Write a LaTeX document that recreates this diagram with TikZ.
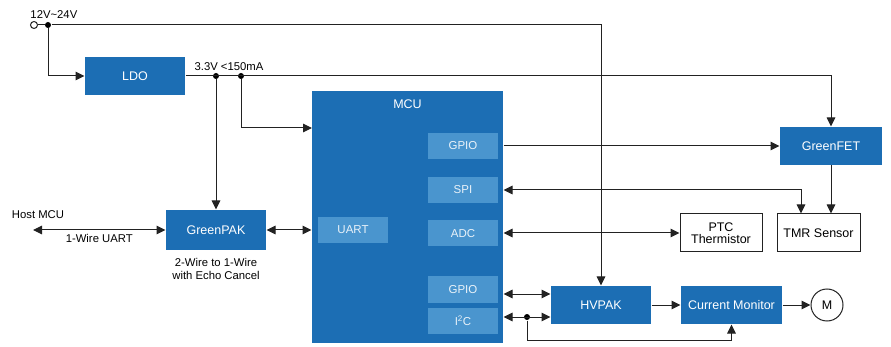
\documentclass[tikz,border=0pt]{standalone}
\usepackage{fontspec}
\setmainfont{Liberation Sans}
\usepackage{xcolor}
\usepackage{tikz}
\usetikzlibrary{arrows.meta,positioning,calc}
\definecolor{blkblue}{HTML}{1C6EB4}
\definecolor{subblue}{HTML}{4A95CE}
\definecolor{wire}{HTML}{222222}

\begin{document}
\begin{tikzpicture}[x=1pt,y=-1pt,
  >={Triangle[length=9pt,width=8.5pt]}, line width=1pt,
  every path/.style={draw=wire},
  blk/.style={fill=blkblue,draw=none,text=white,minimum height=38pt,inner sep=0pt,
    font=\fontsize{12.5}{14}\selectfont},
  sub/.style={fill=subblue,draw=none,text=white!88!subblue,minimum width=70pt,
    minimum height=26pt,inner sep=0pt,font=\fontsize{11.5}{13}\selectfont},
  wbox/.style={draw=wire,fill=white,minimum width=82pt,minimum height=38pt,inner sep=0pt,
    align=center,font=\fontsize{12.5}{14}\selectfont},
  lbl/.style={inner sep=1pt,align=center,font=\fontsize{11.3}{13.5}\selectfont},
  dot/.style={circle,fill=black,draw=none,inner sep=0pt,minimum size=6pt}]
  \useasboundingbox[draw=none] (0,0) rectangle (891,347);
  \node[blk,minimum width=100pt] (ldo) at (135,76) {LDO};
  \node[blk,minimum width=100pt,minimum height=40pt] (gpak) at (216,230) {GreenPAK};
  \node[blk,minimum width=191pt,minimum height=252pt] (mcu) at (407.5,217) {};
  \node[blk,minimum height=0pt,inner sep=1pt,fill=none] (mcut) at ($(mcu.north)+(0,14)$) {MCU};
  \node[sub] (gpioa) at (463,146) {GPIO};
  \node[sub] (spi) at (463,190) {SPI};
  \node[sub] (adc) at (463,233.5) {ADC};
  \node[sub] (gpiob) at (463,289.5) {GPIO};
  \node[sub] (i2c) at (463,320.5) {I\textsuperscript{2}C};
  \node[sub] (uart) at (353,230) {UART};
  \node[blk,minimum width=102pt] (gfet) at (831,146) {GreenFET};
  \node[wbox] (ptc) at (721,233) {PTC\\[-2pt]Thermistor};
  \node[wbox,minimum width=83pt] (tmr) at (818.5,233) {TMR Sensor};
  \node[blk,minimum width=100pt] (hvpak) at (601,305) {HVPAK};
  \node[blk,minimum width=101pt,right=29pt of hvpak] (cmon) {Current Monitor};
  \node[circle,draw=wire,fill=white,minimum size=32pt,inner sep=0pt,right=28pt of cmon,
    font=\fontsize{12.5}{14}\selectfont] (motor) {M};
  \node[circle,draw=wire,fill=white,inner sep=0pt,minimum size=7pt] (vin) at (34,25) {};
  \node[dot] (jin) at (48,25) {};
  \node[lbl,anchor=south west] (vinl) at (29,20) {12V\textasciitilde24V};
  \node[dot] (ja) at (216,76) {};
  \node[dot] (jb) at (241,76) {};
  \node[lbl,anchor=south] (vldo) at (229,72) {3.3V <150mA};
  \node[lbl] (hostl) at (38,215) {Host MCU};
  \node[lbl,below=6pt of gpak] (gpakl) {2-Wire to 1-Wire\\with Echo Cancel};
  \node[dot] (ji) at (527,317) {};
  \coordinate (host) at (33,230);
  \coordinate (mcuin) at (312,128);
  \coordinate (tmrin) at ($(tmr.north)+(-17.5,0)$);
  \coordinate (hva) at ($(hvpak.west)+(0,-11)$);
  \coordinate (hvb) at ($(hvpak.west)+(0,12)$);
  \coordinate (jlow) at (527,340);
  \draw (vin) -- (jin);
  \draw[->] (jin) -| (hvpak.north);
  \draw[->] (jin) |- (ldo.west);
  \draw[->] (ldo.east) -| (gfet.north);
  \draw[->] (ja) -- (gpak.north);
  \draw[->] (jb) |- (mcuin);
  \draw[<->] (host) -- node[lbl,below=3pt]{1-Wire UART} (gpak.west);
  \draw[<->] (gpak.east) -- (gpak.east -| mcu.west);
  \draw[->] (gpioa.east -| mcu.east) -- (gfet.west);
  \draw[<->] (mcu.east |- spi) -| (tmrin);
  \draw[->] (gfet.south) -- (gfet.south |- tmr.north);
  \draw[<->] (mcu.east |- ptc.west) -- (ptc.west);
  \draw[<->] (mcu.east |- hva) -- (hva);
  \draw[<->] (mcu.east |- hvb) -- (hvb);
  \draw[->] (ji) -- (jlow) -| (cmon.south);
  \draw[->] (hvpak) -- (cmon);
  \draw[->] (cmon) -- (motor);
\end{tikzpicture}
\end{document}
